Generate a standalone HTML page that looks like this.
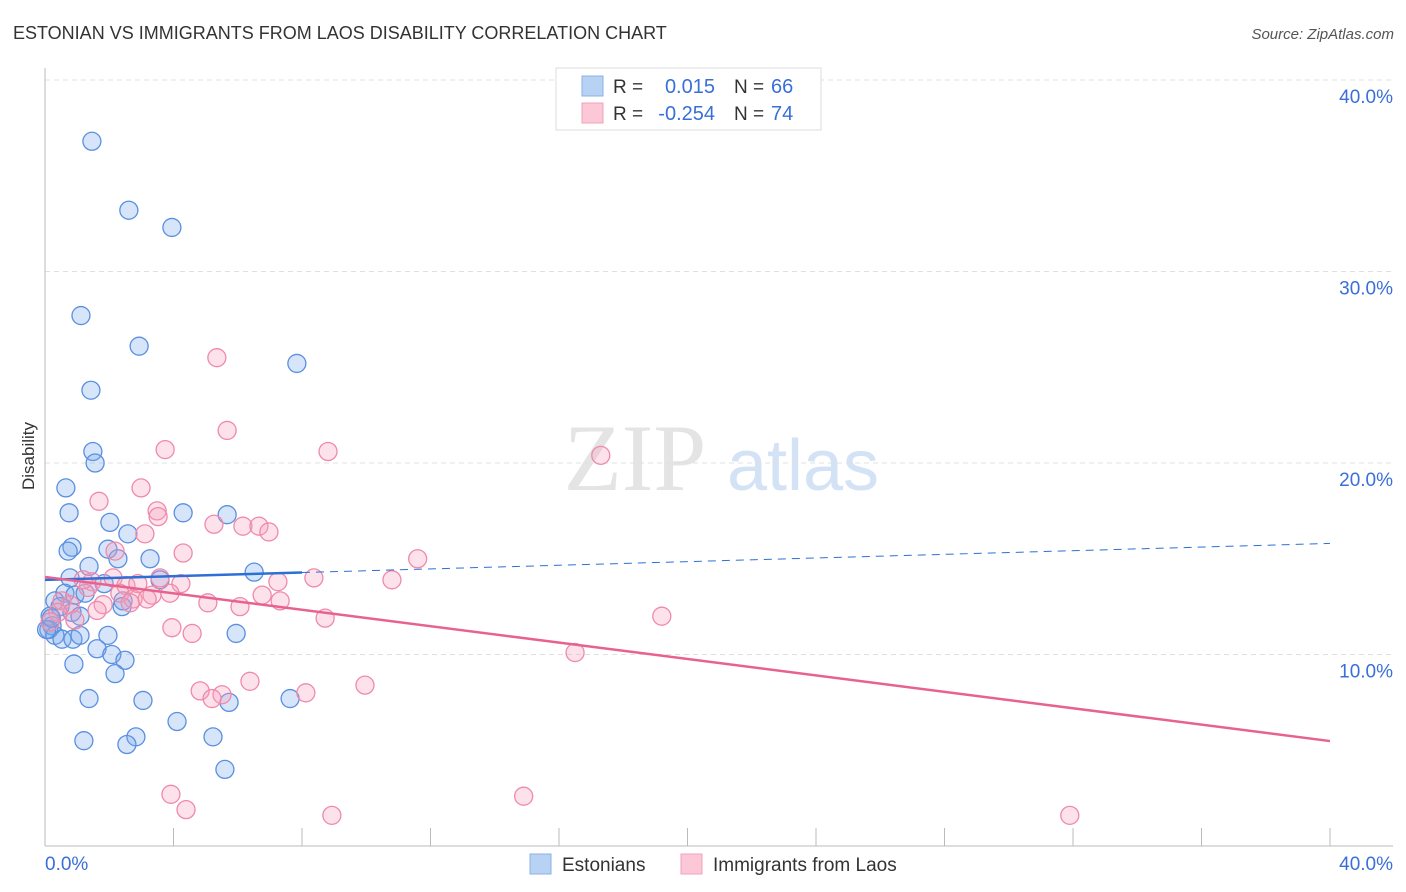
<!DOCTYPE html>
<html><head><meta charset="utf-8"><style>
body{margin:0;background:#fff;font-family:"Liberation Sans",sans-serif;}
</style></head><body>
<svg id="chart" width="1406" height="892" xmlns="http://www.w3.org/2000/svg" style="display:block">
<text x="13" y="39" font-size="18" fill="#333">ESTONIAN VS IMMIGRANTS FROM LAOS DISABILITY CORRELATION CHART</text>
<text x="1394" y="39" font-size="15" fill="#555" text-anchor="end" font-style="italic">Source: ZipAtlas.com</text>
<text transform="translate(34,456) rotate(-90)" font-size="17" fill="#333" text-anchor="middle">Disability</text>
<g>
<text x="635" y="490" font-size="95" fill="#e4e4e4" font-family="Liberation Serif,serif" text-anchor="middle">ZIP</text>
<text x="803" y="490" font-size="72" fill="#d4e2f6" text-anchor="middle">atlas</text>
</g>
<g id="grid"></g><g id="axes"></g><g id="pts"></g><g id="trend"></g>
<g>
<rect x="556" y="68" width="265" height="62" fill="#fff" stroke="#ddd"/>
<rect x="582" y="76" width="21" height="20" fill="#b8d2f4" stroke="#8ab0e8"/>
<rect x="582" y="103" width="21" height="20" fill="#fcc8d8" stroke="#f0a0bc"/>
<text x="613" y="93" font-size="19" fill="#333">R =</text>
<text x="715" y="93" font-size="20" fill="#3a6fd8" text-anchor="end">0.015</text>
<text x="734" y="93" font-size="19" fill="#333">N =</text>
<text x="771" y="93" font-size="20" fill="#3a6fd8">66</text>
<text x="613" y="120" font-size="19" fill="#333">R =</text>
<text x="715" y="120" font-size="20" fill="#3a6fd8" text-anchor="end">-0.254</text>
<text x="734" y="120" font-size="19" fill="#333">N =</text>
<text x="771" y="120" font-size="20" fill="#3a6fd8">74</text>
</g>
<g>
<rect x="530" y="854" width="21" height="20" fill="#b8d2f4" stroke="#8ab0e8"/>
<text x="562" y="871" font-size="19" fill="#333">Estonians</text>
<rect x="681" y="854" width="21" height="20" fill="#fcc8d8" stroke="#f0a0bc"/>
<text x="713" y="871" font-size="19" fill="#333">Immigrants from Laos</text>
</g>
</svg>
<script>
const blueX=[1.46,2.61,3.95,1.12,2.93,7.84,1.43,1.49,1.56,0.65,0.75,4.30,5.67,2.02,2.58,0.84,0.72,1.96,2.27,3.27,1.37,6.51,0.78,1.84,3.58,0.62,0.93,1.25,2.43,0.31,0.47,0.84,1.09,2.40,0.16,0.22,0.12,0.31,0.53,0.87,1.09,1.96,5.95,1.62,2.08,2.49,0.90,2.18,1.37,3.05,5.73,7.63,4.11,1.21,2.83,5.23,2.55,5.60,0.05,0.2];
const blueY=[36.8,33.2,32.3,27.7,26.1,25.2,23.8,20.6,20.0,18.7,17.4,17.4,17.3,16.9,16.3,15.6,15.4,15.5,15.0,15.0,14.6,14.3,14.0,13.7,13.9,13.2,13.1,13.2,12.8,12.8,12.5,12.2,12.0,12.5,12.0,11.5,11.3,11.0,10.8,10.8,11.0,11.0,11.1,10.3,10.0,9.7,9.5,9.0,7.7,7.6,7.5,7.7,6.5,5.5,5.7,5.7,5.3,4.0,11.3,11.9];
const pinkX=[5.35,5.67,3.74,8.81,17.3,1.68,2.99,3.49,3.52,5.26,6.16,6.66,6.97,3.11,4.30,2.18,11.6,2.12,1.46,3.58,4.23,7.25,8.37,10.8,2.52,2.89,1.34,2.33,2.74,3.33,3.18,3.89,6.76,7.32,5.07,1.81,2.65,1.62,6.07,19.2,8.72,3.95,4.58,0.53,0.78,0.40,0.93,0.16,16.5,6.38,9.96,4.83,5.51,8.12,5.20,3.92,4.39,8.93,14.9,31.9,1.19];
const pinkY=[25.5,21.7,20.7,20.6,20.4,18.0,18.7,17.5,17.2,16.8,16.7,16.7,16.4,16.3,15.3,15.4,15.0,14.0,13.8,14.0,13.7,13.8,14.0,13.9,13.6,13.7,13.5,13.2,12.9,13.1,12.9,13.2,13.1,12.8,12.7,12.6,12.7,12.3,12.5,12.0,11.9,11.4,11.1,12.8,12.6,12.2,11.8,11.7,10.1,8.6,8.4,8.1,7.9,8.0,7.7,2.7,1.9,1.6,2.6,1.6,13.9];
const yTicks=[10,20,30,40];
const yTickLabels=["10.0%","20.0%","30.0%","40.0%"];
const xTickLabels=["0.0%","40.0%"];
const blueTrend=[13.9,15.8], pinkTrend=[14.05,5.48];
const X=v=>45+v/40*1285, Y=v=>846-v*19.15;
const NS="http://www.w3.org/2000/svg";
function mk(p,t,a){const e=document.createElementNS(NS,t);for(const k in a)e.setAttribute(k,a[k]);p.appendChild(e);return e;}
const g=document.getElementById('grid'),ax=document.getElementById('axes'),pts=document.getElementById('pts'),tr=document.getElementById('trend');
yTicks.forEach((t,i)=>{
 const l=mk(g,'line',{x1:45,x2:1393,y1:Y(t),y2:Y(t),stroke:'#e0e0e0','stroke-dasharray':'5,4'});
 
 
 const tx=mk(ax,'text',{x:1393,y:Y(t)+23,'font-size':19,fill:'#3a6fd8','text-anchor':'end'});tx.textContent=yTickLabels[i];
 
 
});
mk(ax,'line',{x1:45,x2:45,y1:68,y2:846,stroke:'#bbb'});
mk(ax,'line',{x1:45,x2:1393,y1:846,y2:846,stroke:'#bbb'});
for(let i=0;i<=10;i++){const x=X(i*4);const t=mk(ax,'line',{x1:x,x2:x,y1:828,y2:846,stroke:'#bbb'});}
[[0,'start',45],[40,'end',1393]].forEach((d,i)=>{const t=mk(ax,'text',{x:d[2],y:870,'font-size':19,fill:'#3a6fd8','text-anchor':d[1]});t.textContent=xTickLabels[i];
 
 });
blueX.forEach((x,i)=>{const c=mk(pts,'circle',{cx:X(x),cy:Y(blueY[i]),r:9,fill:'rgba(120,170,235,0.3)',stroke:'#5b8fe0','stroke-width':1.3});
 
 });
pinkX.forEach((x,i)=>{const c=mk(pts,'circle',{cx:X(x),cy:Y(pinkY[i]),r:9,fill:'rgba(248,160,190,0.3)',stroke:'#ef8aaa','stroke-width':1.3});
 
 });
const bAt=v=>blueTrend[0]+(blueTrend[1]-blueTrend[0])*v/40;
let l1=mk(tr,'line',{x1:X(0),y1:Y(bAt(0)),x2:X(8),y2:Y(bAt(8)),stroke:'#2e6fd6','stroke-width':2.5});


let l2=mk(tr,'line',{x1:X(8),y1:Y(bAt(8)),x2:X(40),y2:Y(bAt(40)),stroke:'#2e6fd6','stroke-width':1,'stroke-dasharray':'8,6'});


let l3=mk(tr,'line',{x1:X(0),y1:Y(pinkTrend[0]),x2:X(40),y2:Y(pinkTrend[1]),stroke:'#e8628f','stroke-width':2.5});


</script>
</body></html>
